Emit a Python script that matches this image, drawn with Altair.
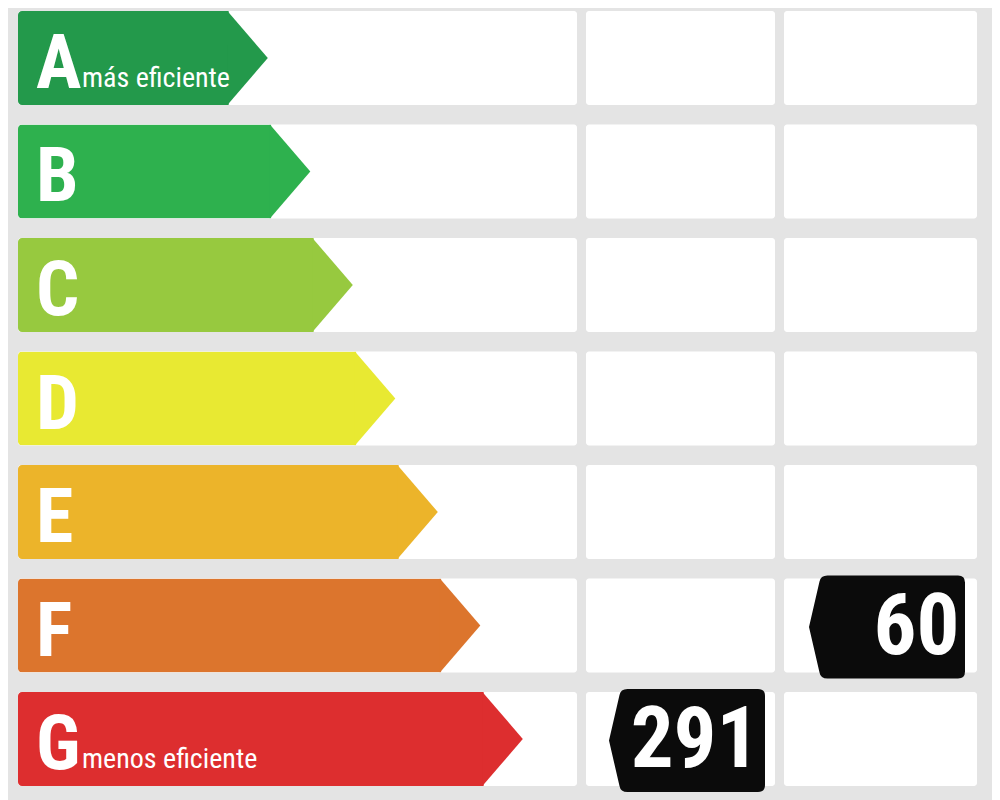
import altair as alt
import pandas as pd

# ---------------- data ----------------
classes = ["A", "B", "C", "D", "E", "F", "G"]
class_colors = ["#23994b", "#2eb14e", "#97c93f", "#e8e932", "#ecb42a", "#dc752d", "#dd2e2f"]
captions = ["más eficiente", "", "", "", "", "", "menos eficiente"]

# rating shown in the middle column (consumo) and the right column (emisiones)
consumo_class = ["G"]
consumo_value = [291]
emisiones_class = ["F"]
emisiones_value = [60]

# ---------------- layout / style ----------------
BG = "#e4e4e4"
ROW_PAD = 0.172
H = 775
W1, W2, W3 = 559, 189, 193
UNIT_PX = 42.5                  # arrow length step per class
X_MAX = W1 / UNIT_PX
BODY_OFFSET = 4.96              # body length of the A arrow in class steps
FONT = "Roboto Condensed, DejaVu Sans Condensed, sans-serif"

TIP_PATH = "M-0.03,-1 L0.83,0 L-0.03,1 Z"
BADGE_PATH = ("M-1.06,-1 L1.55,-1 Q1.69,-1 1.69,-0.86 L1.69,0.92 Q1.69,1.06 1.55,1.06 "
              "L-1.06,1.06 Q-1.2,1.06 -1.22,0.94 L-1.43,0.03 L-1.22,-0.88 Q-1.2,-1 -1.06,-1 Z")

df = pd.DataFrame({
    "cls": classes,
    "idx": list(range(len(classes))),
    "caption": captions,
})
df_consumo = pd.DataFrame({"cls": consumo_class, "value": consumo_value})
df_emis = pd.DataFrame({"cls": emisiones_class, "value": emisiones_value})


def yenc():
    return alt.Y("cls:N", scale=alt.Scale(domain=classes, paddingInner=ROW_PAD, paddingOuter=0), axis=None)


xscale = alt.Scale(domain=[0, X_MAX], nice=False, zero=True)
cscale = alt.Scale(domain=classes, range=class_colors)

base = alt.Chart(df).transform_calculate(body=f"datum.idx + {BODY_OFFSET}")

cells1 = alt.Chart(df).mark_rect(color="white", cornerRadius=3).encode(y=yenc())
body = base.mark_bar(cornerRadiusTopLeft=4, cornerRadiusBottomLeft=4).encode(
    x=alt.X("body:Q", scale=xscale, axis=None),
    y=yenc(),
    color=alt.Color("cls:N", scale=cscale, legend=None),
)
tip = base.mark_point(shape=TIP_PATH, size=94 * 94, filled=True, opacity=1, strokeWidth=0).encode(
    x=alt.X("body:Q", scale=xscale, axis=None),
    y=yenc(),
    color=alt.Color("cls:N", scale=cscale, legend=None),
)
letters = base.mark_text(align="left", baseline="alphabetic", dx=18, dy=30, font=FONT,
                         fontSize=76, fontWeight="bold", color="white").encode(
    x=alt.datum(0), y=yenc(), text="cls:N")
caps = base.mark_text(align="left", baseline="alphabetic", dx=64, dy=29, font=FONT,
                      fontSize=28, color="white").encode(
    x=alt.datum(0), y=yenc(), text="caption:N")

panel1 = alt.layer(cells1, body, tip, letters, caps).properties(width=W1, height=H)


def value_panel(dfv, w):
    cells = alt.Chart(df).mark_rect(color="white", cornerRadius=3).encode(y=yenc())
    badge = alt.Chart(dfv).mark_point(shape=BADGE_PATH, size=100 * 100, filled=True, opacity=1,
                                      strokeWidth=0, color="#0b0b0b").encode(y=yenc())
    num = alt.Chart(dfv).mark_text(align="right", baseline="alphabetic", dx=79, dy=28, font=FONT,
                                   fontSize=85, fontWeight="bold", color="white").encode(
        y=yenc(), text="value:N")
    return alt.layer(cells, badge, num).properties(width=w, height=H)


chart = alt.hconcat(panel1, value_panel(df_consumo, W2), value_panel(df_emis, W3), spacing=9).properties(
    padding={"left": 10, "top": 2, "right": 15, "bottom": 8},
    background=BG,
).configure_view(strokeWidth=0)

chart.save("out.html", embed_options={"renderer": "svg", "actions": False})
